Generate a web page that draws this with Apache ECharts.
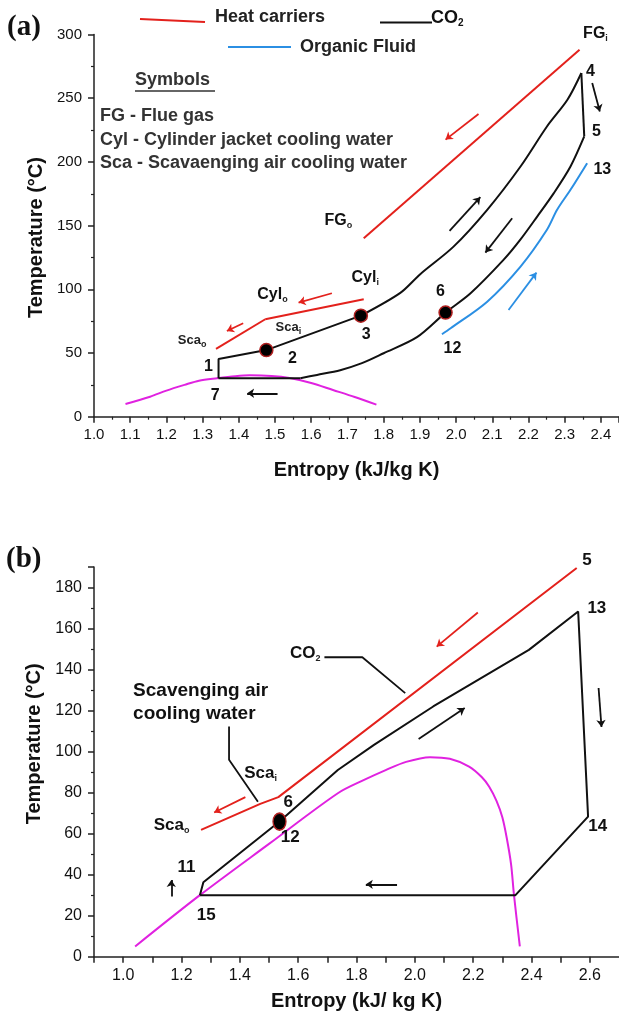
<!DOCTYPE html>
<html><head><meta charset="utf-8">
<script src="https://cdn.jsdelivr.net/npm/echarts@6/dist/echarts.min.js"></script>
<style>html,body{margin:0;padding:0;background:#fff}#c{width:619px;height:1015px}</style>
</head><body><div id="c"></div>
<script>
// ---------- (a) data ----------
const aDome = [[1.087,10],[1.155,15.7],[1.2,20.5],[1.25,25],[1.29,28.3],[1.34,30.2],[1.39,31.8],[1.43,32.5],[1.49,32],[1.54,30.4],[1.6,26.5],[1.66,21],[1.72,15.5],[1.78,9.5]];
const aCO2Low = [[1.344,30.2],[1.344,45.3],[1.476,52.3],[1.737,79.3]];
const aCO2Heat = [[1.737,79.3],[1.846,97.2],[1.901,111.9],[1.993,133.5],[2.086,162.4],[2.178,196.4],[2.251,227.8],[2.308,249],[2.346,269.8]];
const aCO2Exp = [[2.346,269.8],[2.354,220]];
const aCO2Cool = [[2.354,220],[2.316,196.4],[2.270,175.5],[2.224,157.1],[2.177,138.8],[2.131,123.1],[2.040,96.9],[1.971,81.7],[1.892,62.4],[1.8,49.8],[1.74,42],[1.68,36.5],[1.616,32.8],[1.57,30.2]];
const aCO2Cond = [[1.57,30.2],[1.344,30.2]];
const aOrganic = [[1.961,64.7],[1.985,69.4],[2.086,90.3],[2.178,117.8],[2.251,146.7],[2.279,162.4],[2.316,178.1],[2.362,199]];
const aFlueGas = [[1.745,140],[2.341,288]];
const aSca = [[1.337,53.2],[1.473,76.5]];
const aCyl = [[1.473,76.5],[1.745,92.2]];
const aDots = [[1.476,52.3],[1.737,79.3],[1.971,81.7]];
const aArrowsRed = [[[2.062,237.6],[1.971,217.5]],[[1.657,96.9],[1.565,89.6]],[[1.412,73.4],[1.367,67.3]]];
const aArrowsBlack = [[[1.507,18.4],[1.423,18.4]],[[1.982,145.9],[2.067,172.3]],[[2.155,155.8],[2.081,128.8]],[[2.376,261.9],[2.397,239.6]]];
const aArrowsBlue = [[[2.145,83.8],[2.222,113.1]]];
const aLabels = [['FG','i',2.385,300.4,'n16'],['4','',2.371,270.8,'n16'],['5','',2.388,223.7,'n16'],['13','',2.404,193.9,'n16'],
  ['FG','o',1.675,153.7,'n16'],['Cyl','i',1.749,108.9,'n16'],['Cyl','o',1.493,95.6,'n16'],['Sca','i',1.537,69.7,'n13'],
  ['Sca','o',1.271,59.5,'n13'],['1','',1.316,39,'n16'],['2','',1.548,45.3,'n16'],['3','',1.752,64.2,'n16'],
  ['6','',1.957,97.9,'n16'],['12','',1.99,53.2,'n16'],['7','',1.335,16.3,'n16']];
const aXTicks = {min:1.0, max:2.45, interval:0.1};
const aYTicks = {min:0, max:300, interval:50};

// ---------- (b) data ----------
const bDome = [[1.041,5],[1.263,30],[1.5,55],[1.736,79.7],[1.826,86.2],[1.9,91],[1.97,95],[2.052,97.3],[2.12,96.5],[2.186,92.7],[2.23,87.5],[2.255,82.9],[2.28,76],[2.3,68],[2.315,58],[2.33,45],[2.34,30],[2.36,5]];
const bCO2 = [[1.263,30],[1.275,36.3],[1.536,65.9],[1.736,91],[1.86,103.3],[2.063,122],[2.391,149.6],[2.56,168.3],[2.594,68.3],[2.345,30],[1.263,30]];
const bSca = [[1.267,61.8],[1.47,74.5],[1.532,77.8],[2.555,189.5]];
const bDots = [[1.536,65.9]];
const bLeaderCO2 = [[1.69,146],[1.82,146],[1.967,128.5]];
const bLeaderSca = [[1.363,112.2],[1.363,96],[1.462,75.6]];
const bArrowsRed = [[[2.216,167.8],[2.075,151.2]],[[1.419,77.8],[1.312,70.3]]];
const bArrowsBlack = [[[2.013,106.2],[2.171,121.2]],[[2.63,131],[2.64,112]],[[1.939,35.3],[1.832,35.3]],[[1.165,29.3],[1.165,37.4]]];
const bLabels = [['5','',2.59,193.5,'n17'],['13','',2.624,170,'n17'],['14','',2.627,63.8,'n17'],['CO','2',1.624,148,'n17'],
  ['Sca','i',1.471,89.6,'n17'],['6','',1.566,75.5,'n17'],['Sca','o',1.166,64.2,'n17'],['12','',1.573,58,'n17'],
  ['11','',1.217,43.8,'n17'],['15','',1.285,20.4,'n17']];
const bNote = [1.034,124.2,'Scavenging air','cooling water'];
const bXTicks = {min:0.9, max:2.7, interval:0.1};
const bYTicks = {min:0, max:190, interval:20};

// ---------- build ----------
const FF = '"Liberation Sans", Arial, sans-serif';
const RED = '#e3211c', BLUE = '#2b8fe3', MAG = '#e022e0', BLK = '#111';
const NB = {textBorderWidth:0, textBorderColor:'transparent', textShadowBlur:0};
const rich = {
  n16:Object.assign({fontSize:16,fontWeight:'bold',color:'#111',fontFamily:FF,lineHeight:18}, NB),
  n13:Object.assign({fontSize:13,fontWeight:'bold',color:'#222',fontFamily:FF,lineHeight:16}, NB),
  n17:Object.assign({fontSize:17,fontWeight:'bold',color:'#111',fontFamily:FF,lineHeight:20}, NB),
  s:Object.assign({fontSize:9,fontWeight:'bold',color:'#222',fontFamily:FF,verticalAlign:'bottom',lineHeight:10}, NB)
};
function line(data, color, g, smooth, w){
  return {type:'line', xAxisIndex:g, yAxisIndex:g, data:data, symbol:'none', showSymbol:false,
    smooth: smooth||false, lineStyle:{color:color, width:w||2}, silent:true, z:3, clip:false};
}
function arrows(list, color, g){
  return {type:'lines', coordinateSystem:'cartesian2d', xAxisIndex:g, yAxisIndex:g,
    data:list.map(c=>({coords:c})), symbol:['none','arrow'], symbolSize:7, silent:true, z:4,
    lineStyle:{color:color, width:1.8, opacity:1, curveness:0}};
}
function dots(data, g, size){
  return {type:'scatter', xAxisIndex:g, yAxisIndex:g, data:data, symbol:'circle', symbolSize:size, silent:true, z:6,
    itemStyle:{color:'#000', borderColor:'#b02020', borderWidth:1.5, opacity:1}};
}
function labels(list, g){
  return {type:'scatter', xAxisIndex:g, yAxisIndex:g, symbolSize:0, silent:true, clip:false, z:10,
    itemStyle:{color:'#111', opacity:1},
    data:list.map(l=>({value:[l[2],l[3]], t:'{'+l[4]+'|'+l[0]+'}'+(l[1]?'{s|'+l[1]+'}':'')})),
    label:Object.assign({show:true, position:'inside', color:'#111', fontFamily:FF, formatter:p=>p.data.t, rich:rich}, NB)};
}
function xAxis(g, t, name, fs, fmt){
  return {type:'value', gridIndex:g, min:t.min, max:t.max, interval:t.interval,
    axisLine:{show:true, onZero:false, lineStyle:{color:'#222', width:1.5}},
    axisTick:{show:true, length:6, lineStyle:{color:'#222', width:1.5}},
    minorTick:{show:g===0, splitNumber:2, length:3, lineStyle:{color:'#222', width:1.2}},
    splitLine:{show:false}, minorSplitLine:{show:false},
    axisLabel:{fontSize:fs, color:'#111', fontFamily:FF, margin:11, showMaxLabel:false, showMinLabel:true, formatter:fmt},
    name:name, nameLocation:'middle', nameGap:g===0?44:35,
    nameTextStyle:{fontSize:20, fontWeight:'bold', color:'#111', fontFamily:FF}};
}
function yAxis(g, t, fs, pad){
  return {type:'value', gridIndex:g, min:t.min, max:t.max, interval:t.interval,
    axisLine:{show:true, onZero:false, lineStyle:{color:'#222', width:1.5}},
    axisTick:{show:true, length:6, lineStyle:{color:'#222', width:1.5}},
    minorTick:{show:true, splitNumber:2, length:3, lineStyle:{color:'#222', width:1.2}},
    splitLine:{show:false}, minorSplitLine:{show:false},
    axisLabel:{fontSize:fs, color:'#111', fontFamily:FF, margin:12, showMaxLabel:g===0},
    name:'Temperature (\u00B0C)', nameLocation:'middle', nameGap:46, nameRotate:90,
    nameTextStyle:{fontSize:20, fontWeight:'bold', color:'#111', fontFamily:FF, padding:pad}};
}
const T18 = 'bold 18px '+FF;
const chart = echarts.init(document.getElementById('c'), null, {renderer:'canvas'});
const option = {
  animation:false,
  backgroundColor:'#fff',
  grid:[{left:94, top:34.5, right:0, bottom:598.3},{left:94, top:567, right:-5, bottom:58.3}],
  xAxis:[xAxis(0, aXTicks, 'Entropy (kJ/kg K)', 15, v=>v.toFixed(1)),
         xAxis(1, bXTicks, 'Entropy (kJ/ kg K)', 16, v=>{const k=Math.round(v*10); return (k%2===0 && k>=10 && k<=26)? (k/10).toFixed(1):'';})],
  yAxis:[yAxis(0, aYTicks, 15, [0,24,0,0]), yAxis(1, bYTicks, 16, [0,0,0,36])],
  series:[
    line(aDome, MAG, 0, 0.3),
    line(aCO2Low, BLK, 0), line(aCO2Heat, BLK, 0, 0.3), line(aCO2Exp, BLK, 0), line(aCO2Cool, BLK, 0, 0.3), line(aCO2Cond, BLK, 0),
    line(aOrganic, BLUE, 0, 0.3), line(aFlueGas, RED, 0), line(aSca, RED, 0), line(aCyl, RED, 0),
    arrows(aArrowsRed, RED, 0), arrows(aArrowsBlack, BLK, 0), arrows(aArrowsBlue, BLUE, 0),
    dots(aDots, 0, 13), labels(aLabels, 0),
    line(bDome, MAG, 1, 0.3), line(bCO2, BLK, 1), line(bSca, RED, 1),
    line(bLeaderCO2, BLK, 1, false, 1.8), line(bLeaderSca, BLK, 1, false, 1.8),
    arrows(bArrowsRed, RED, 1), arrows(bArrowsBlack, BLK, 1),
    dots(bDots, 1, [13,17]), labels(bLabels, 1),
    {type:'scatter', xAxisIndex:1, yAxisIndex:1, symbolSize:0, silent:true, clip:false, z:10,
     itemStyle:{color:'#111', opacity:1},
     data:[[bNote[0], bNote[1]]],
     label:Object.assign({show:true, position:'right', distance:0, align:'left', color:'#111', fontFamily:FF,
       formatter:'{n|'+bNote[2]+'}\n{n|'+bNote[3]+'}', rich:{n:Object.assign({fontSize:19,fontWeight:'bold',color:'#111',fontFamily:FF,lineHeight:23}, NB)}}, NB)}
  ],
  graphic:[
    {type:'text', x:7, y:28, style:{text:'(a)', font:'bold 29px "Liberation Serif", serif', fill:'#111', textVerticalAlign:'middle'}},
    {type:'text', x:6, y:560, style:{text:'(b)', font:'bold 29px "Liberation Serif", serif', fill:'#111', textVerticalAlign:'middle'}},
    {type:'line', shape:{x1:140, y1:19, x2:205, y2:22}, style:{stroke:RED, lineWidth:2}},
    {type:'text', x:215, y:17, style:{text:'Heat carriers', font:T18, fill:'#222', textVerticalAlign:'middle'}},
    {type:'line', shape:{x1:380, y1:22.5, x2:432, y2:22.5}, style:{stroke:BLK, lineWidth:2}},
    {type:'text', x:431, y:18, style:{text:'{m|CO}{s|2}', rich:{m:{font:T18, fill:'#111', lineHeight:20}, s:{font:'bold 10px '+FF, fill:'#111', verticalAlign:'bottom', lineHeight:11}}, textVerticalAlign:'middle'}},
    {type:'line', shape:{x1:228, y1:47, x2:291, y2:47}, style:{stroke:BLUE, lineWidth:2}},
    {type:'text', x:300, y:47, style:{text:'Organic Fluid', font:T18, fill:'#222', textVerticalAlign:'middle'}},
    {type:'text', x:135, y:80, style:{text:'Symbols', font:T18, fill:'#333', textVerticalAlign:'middle'}},
    {type:'line', shape:{x1:135, y1:91, x2:215, y2:91}, style:{stroke:'#333', lineWidth:1.3}},
    {type:'text', x:100, y:116, style:{text:'FG - Flue gas', font:T18, fill:'#333', textVerticalAlign:'middle'}},
    {type:'text', x:100, y:140, style:{text:'Cyl - Cylinder jacket cooling water', font:T18, fill:'#333', textVerticalAlign:'middle'}},
    {type:'text', x:100, y:163, style:{text:'Sca - Scavaenging air cooling water', font:T18, fill:'#333', textVerticalAlign:'middle'}}
  ]
};
chart.setOption(option);
</script>
</body></html>
